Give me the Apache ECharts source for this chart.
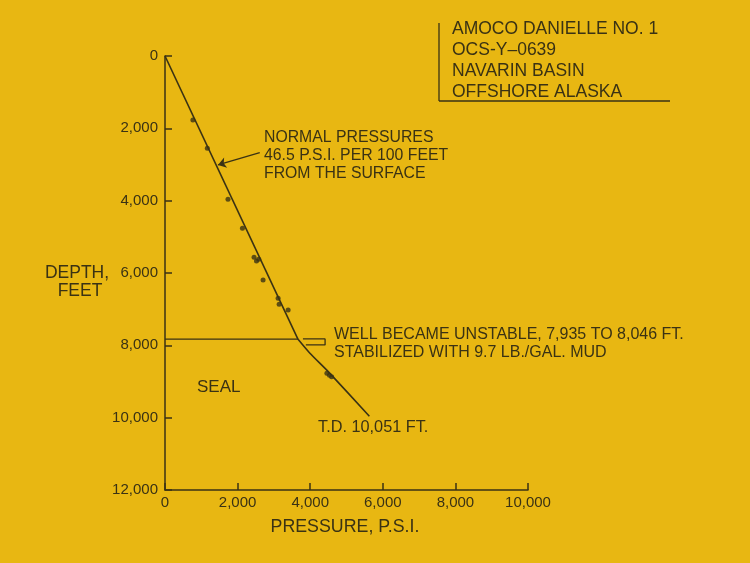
<!DOCTYPE html>
<html><head><meta charset="utf-8">
<script src="https://cdn.jsdelivr.net/npm/echarts@6/dist/echarts.min.js"></script>
<style>html,body{margin:0;padding:0;background:#e8b712}#c{width:750px;height:563px}</style>
</head><body><div id="c"></div>
<script>
// Tick values
var xTicks = [0, 2000, 4000, 6000, 8000, 10000];
var yTicks = [0, 2000, 4000, 6000, 8000, 10000, 12000];
// Measured pressure points [pressure psi, depth ft]
var measPressure = [768, 1166, 1735, 2133, 2453, 2520, 2583, 2702, 3116, 3144, 3392, 4460, 4530, 4590];
var measDepth    = [1770, 2552, 3963, 4764, 5566, 5668, 5621, 6193, 6700, 6865, 7022, 8770, 8830, 8870];
// Normal pressure trend
var normalPressure = [0, 3665];
var normalDepth = [0, 7833];
// Trend below the seal
var sealPressure = [3665, 3992, 4497, 5630];
var sealDepth = [7833, 8219, 8728, 9960];
// Seal top line
var sealLinePressure = [0, 3665];
var sealLineDepth = [7830, 7830];
// Unstable bracket (7,935 to 8,046 ft)
var bracketPressure = [3800, 4410, 4410, 3880];
var bracketDepth = [7824, 7824, 7990, 7990];
// Arrow for normal pressure note
var arrowFrom = [2610, 2673];
var arrowTo = [1459, 3013];

function zip(a, b) { return a.map(function (v, i) { return [v, b[i]]; }); }
var ink = '#3a3214';
var font = 'Liberation Sans, Arial, sans-serif';
function fmt(v) { return String(v).replace(/\B(?=(\d{3})+(?!\d))/g, ','); }

var chart = echarts.init(document.getElementById('c'));
var txt = function (x, y, s, size, align) {
  return { type: 'text', x: x, y: y, style: { text: s, fill: ink, font: (size || 15) + 'px ' + font, textAlign: align || 'left', textVerticalAlign: 'middle' } };
};
chart.setOption({
  backgroundColor: '#e8b712',
  animation: false,
  grid: { left: 165, top: 56, right: 222, bottom: 73 },
  xAxis: {
    type: 'value', min: 0, max: 10000, interval: 2000, position: 'bottom',
    axisLine: { onZero: false, lineStyle: { color: ink, width: 1.5 } },
    axisTick: { inside: true, length: 7, lineStyle: { color: ink, width: 1.5 } },
    splitLine: { show: false },
    axisLabel: { color: ink, fontSize: 15, fontFamily: font, margin: 5, formatter: fmt }
  },
  yAxis: {
    type: 'value', min: 0, max: 12000, interval: 2000, inverse: true, position: 'left',
    axisLine: { show: true, onZero: false, lineStyle: { color: ink, width: 1.5 } },
    axisTick: { show: true, inside: true, length: 7, lineStyle: { color: ink, width: 1.5 } },
    splitLine: { show: false },
    axisLabel: { color: ink, fontSize: 15, fontFamily: font, margin: 7, formatter: fmt }
  },
  series: [
    { type: 'line', data: zip(normalPressure, normalDepth), symbol: 'none', lineStyle: { color: ink, width: 1.6 },
      markLine: { silent: true, symbol: ['none', 'arrow'], symbolSize: 8, label: { show: false },
        lineStyle: { color: ink, width: 1.3, type: 'solid' },
        data: [[{ coord: arrowFrom }, { coord: arrowTo }]] } },
    { type: 'line', data: zip(sealPressure, sealDepth), symbol: 'none', smooth: 0.2, lineStyle: { color: ink, width: 1.6 } },
    { type: 'line', data: zip(sealLinePressure, sealLineDepth), symbol: 'none', lineStyle: { color: ink, width: 1.3 } },
    { type: 'line', data: zip(bracketPressure, bracketDepth), symbol: 'none', lineStyle: { color: ink, width: 1.3 } },
    { type: 'scatter', data: zip(measPressure, measDepth), symbolSize: 5, itemStyle: { color: ink } }
  ],
  graphic: [
    { type: 'line', shape: { x1: 439, y1: 23, x2: 439, y2: 101 }, style: { stroke: ink, lineWidth: 1.3 } },
    { type: 'line', shape: { x1: 439, y1: 101, x2: 670, y2: 101 }, style: { stroke: ink, lineWidth: 1.3 } },
    txt(452, 29, 'AMOCO DANIELLE NO. 1', 17.5),
    txt(452, 50, 'OCS-Y\u20130639', 17.5),
    txt(452, 71, 'NAVARIN BASIN', 17.5),
    txt(452, 92, 'OFFSHORE ALASKA', 17.5),
    txt(264, 138, 'NORMAL PRESSURES', 15.8),
    txt(264, 156, '46.5 P.S.I. PER 100 FEET', 15.8),
    txt(264, 174, 'FROM THE SURFACE', 15.8),
    txt(334, 335, 'WELL BECAME UNSTABLE, 7,935 TO 8,046 FT.', 16),
    txt(334, 353, 'STABILIZED WITH 9.7 LB./GAL. MUD', 16),
    txt(197, 387, 'SEAL', 17),
    txt(318, 428, 'T.D. 10,051 FT.', 16.3),
    txt(77, 273, 'DEPTH,', 17.5, 'center'),
    txt(80, 291, 'FEET', 17.5, 'center'),
    txt(345, 527, 'PRESSURE, P.S.I.', 17.8, 'center')
  ]
});
</script></body></html>
